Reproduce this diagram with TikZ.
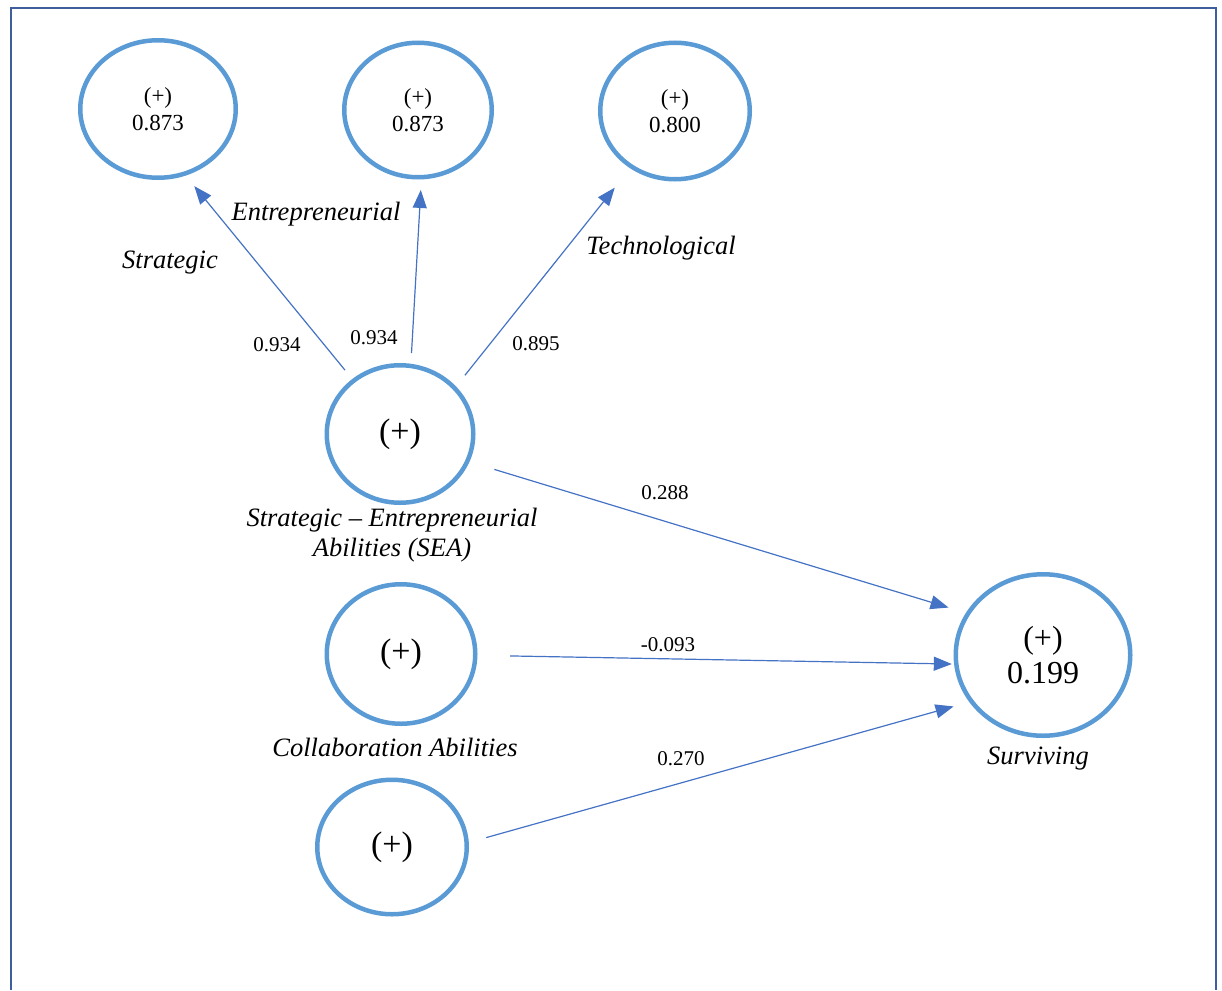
\documentclass[tikz,border=0pt]{standalone}
\usepackage{fontspec}
\setmainfont{Liberation Serif}
\usetikzlibrary{arrows.meta,shapes.geometric}
\definecolor{ring}{HTML}{5B9BD5}
\definecolor{linkblue}{HTML}{4472C4}
\definecolor{frameblue}{HTML}{3E5E9E}

\begin{document}
\begin{tikzpicture}[x=1pt,y=-1pt,
  construct/.style={ellipse, draw=ring, line width=4.5pt, inner sep=0pt, outer sep=0pt, align=center},
  small/.style={font=\fontsize{23}{27}\selectfont},
  big/.style={font=\fontsize{34}{38}\selectfont},
  conn/.style={draw=linkblue, line width=1.2pt, -{Triangle[length=18pt,width=14pt]}},
  coef/.style={font=\fontsize{21}{24}\selectfont},
  lbl/.style={font=\fontsize{26.5}{30}\selectfont\itshape, align=center},
]
\path[use as bounding box] (0,0) rectangle (1222,990);

% outer frame
\draw[frameblue, line width=2.8pt] (11,990) -- (11,8) -- (1216,8) -- (1216,990);

% first-order constructs
\node[construct, small, minimum width=155.5pt, minimum height=137.5pt] (s1) at (158,109) {(+)\\0.873};
\node[construct, small, minimum width=147.5pt, minimum height=134.5pt] (s2) at (418,110) {(+)\\0.873};
\node[construct, small, minimum width=149.5pt, minimum height=136.5pt] (s3) at (675,111) {(+)\\0.800};

% second-order and exogenous constructs
\node[construct, big, minimum width=146.5pt, minimum height=137.5pt] (sea) at (400,434) {(+)};
\node[construct, big, minimum width=148.5pt, minimum height=139.5pt] (col) at (401,654) {(+)};
\node[construct, big, minimum width=149.5pt, minimum height=134.5pt] (bot) at (392,847) {(+)};

% endogenous construct
\node[construct, font=\fontsize{32}{35}\selectfont, minimum width=174.5pt, minimum height=161.5pt] (sur) at (1043,655) {(+)\\0.199};

% construct labels
\node[lbl] (lS) at (170,263) {Strategic};
\node[lbl] (lE) at (316,214) {Entrepreneurial};
\node[lbl] (lT) at (661,248) {Technological};
\node[lbl] (lSEA) at (392,535) {Strategic -- Entrepreneurial\\Abilities (SEA)};
\node[lbl] (lC) at (395,747) {Collaboration Abilities};
\node[lbl] (lSur) at (1038,759) {Surviving};

% paths
\draw[conn, shorten <=13.7pt, shorten >=16pt] (sea.131.6) -- (s1.-68.8);
\draw[conn, shorten <=13pt, shorten >=12.8pt] (sea.81.6) -- (s2.-87.9);
\draw[conn, shorten <=16.5pt, shorten >=27pt] (sea.40.5) -- (s3.232.1);
\draw[conn, shorten <=28.3pt, shorten >=20.5pt] (sea.-22.75) -- (sur.151.3);
\draw[conn, shorten <=34.8pt, shorten >=4.5pt] (col.-1.05) -- (sur.186.9);
\draw[conn, shorten <=20.4pt, shorten >=18.7pt] (bot.3.0) -- (sur.213.1);

% path coefficients
\node[coef] (c1) at (277,345) {0.934};
\node[coef] (c2) at (374,338) {0.934};
\node[coef] (c3) at (536,344) {0.895};
\node[coef] (c4) at (665,493) {0.288};
\node[coef] (c5) at (668,645) {-0.093};
\node[coef] (c6) at (681,759) {0.270};
\end{tikzpicture}
\end{document}
